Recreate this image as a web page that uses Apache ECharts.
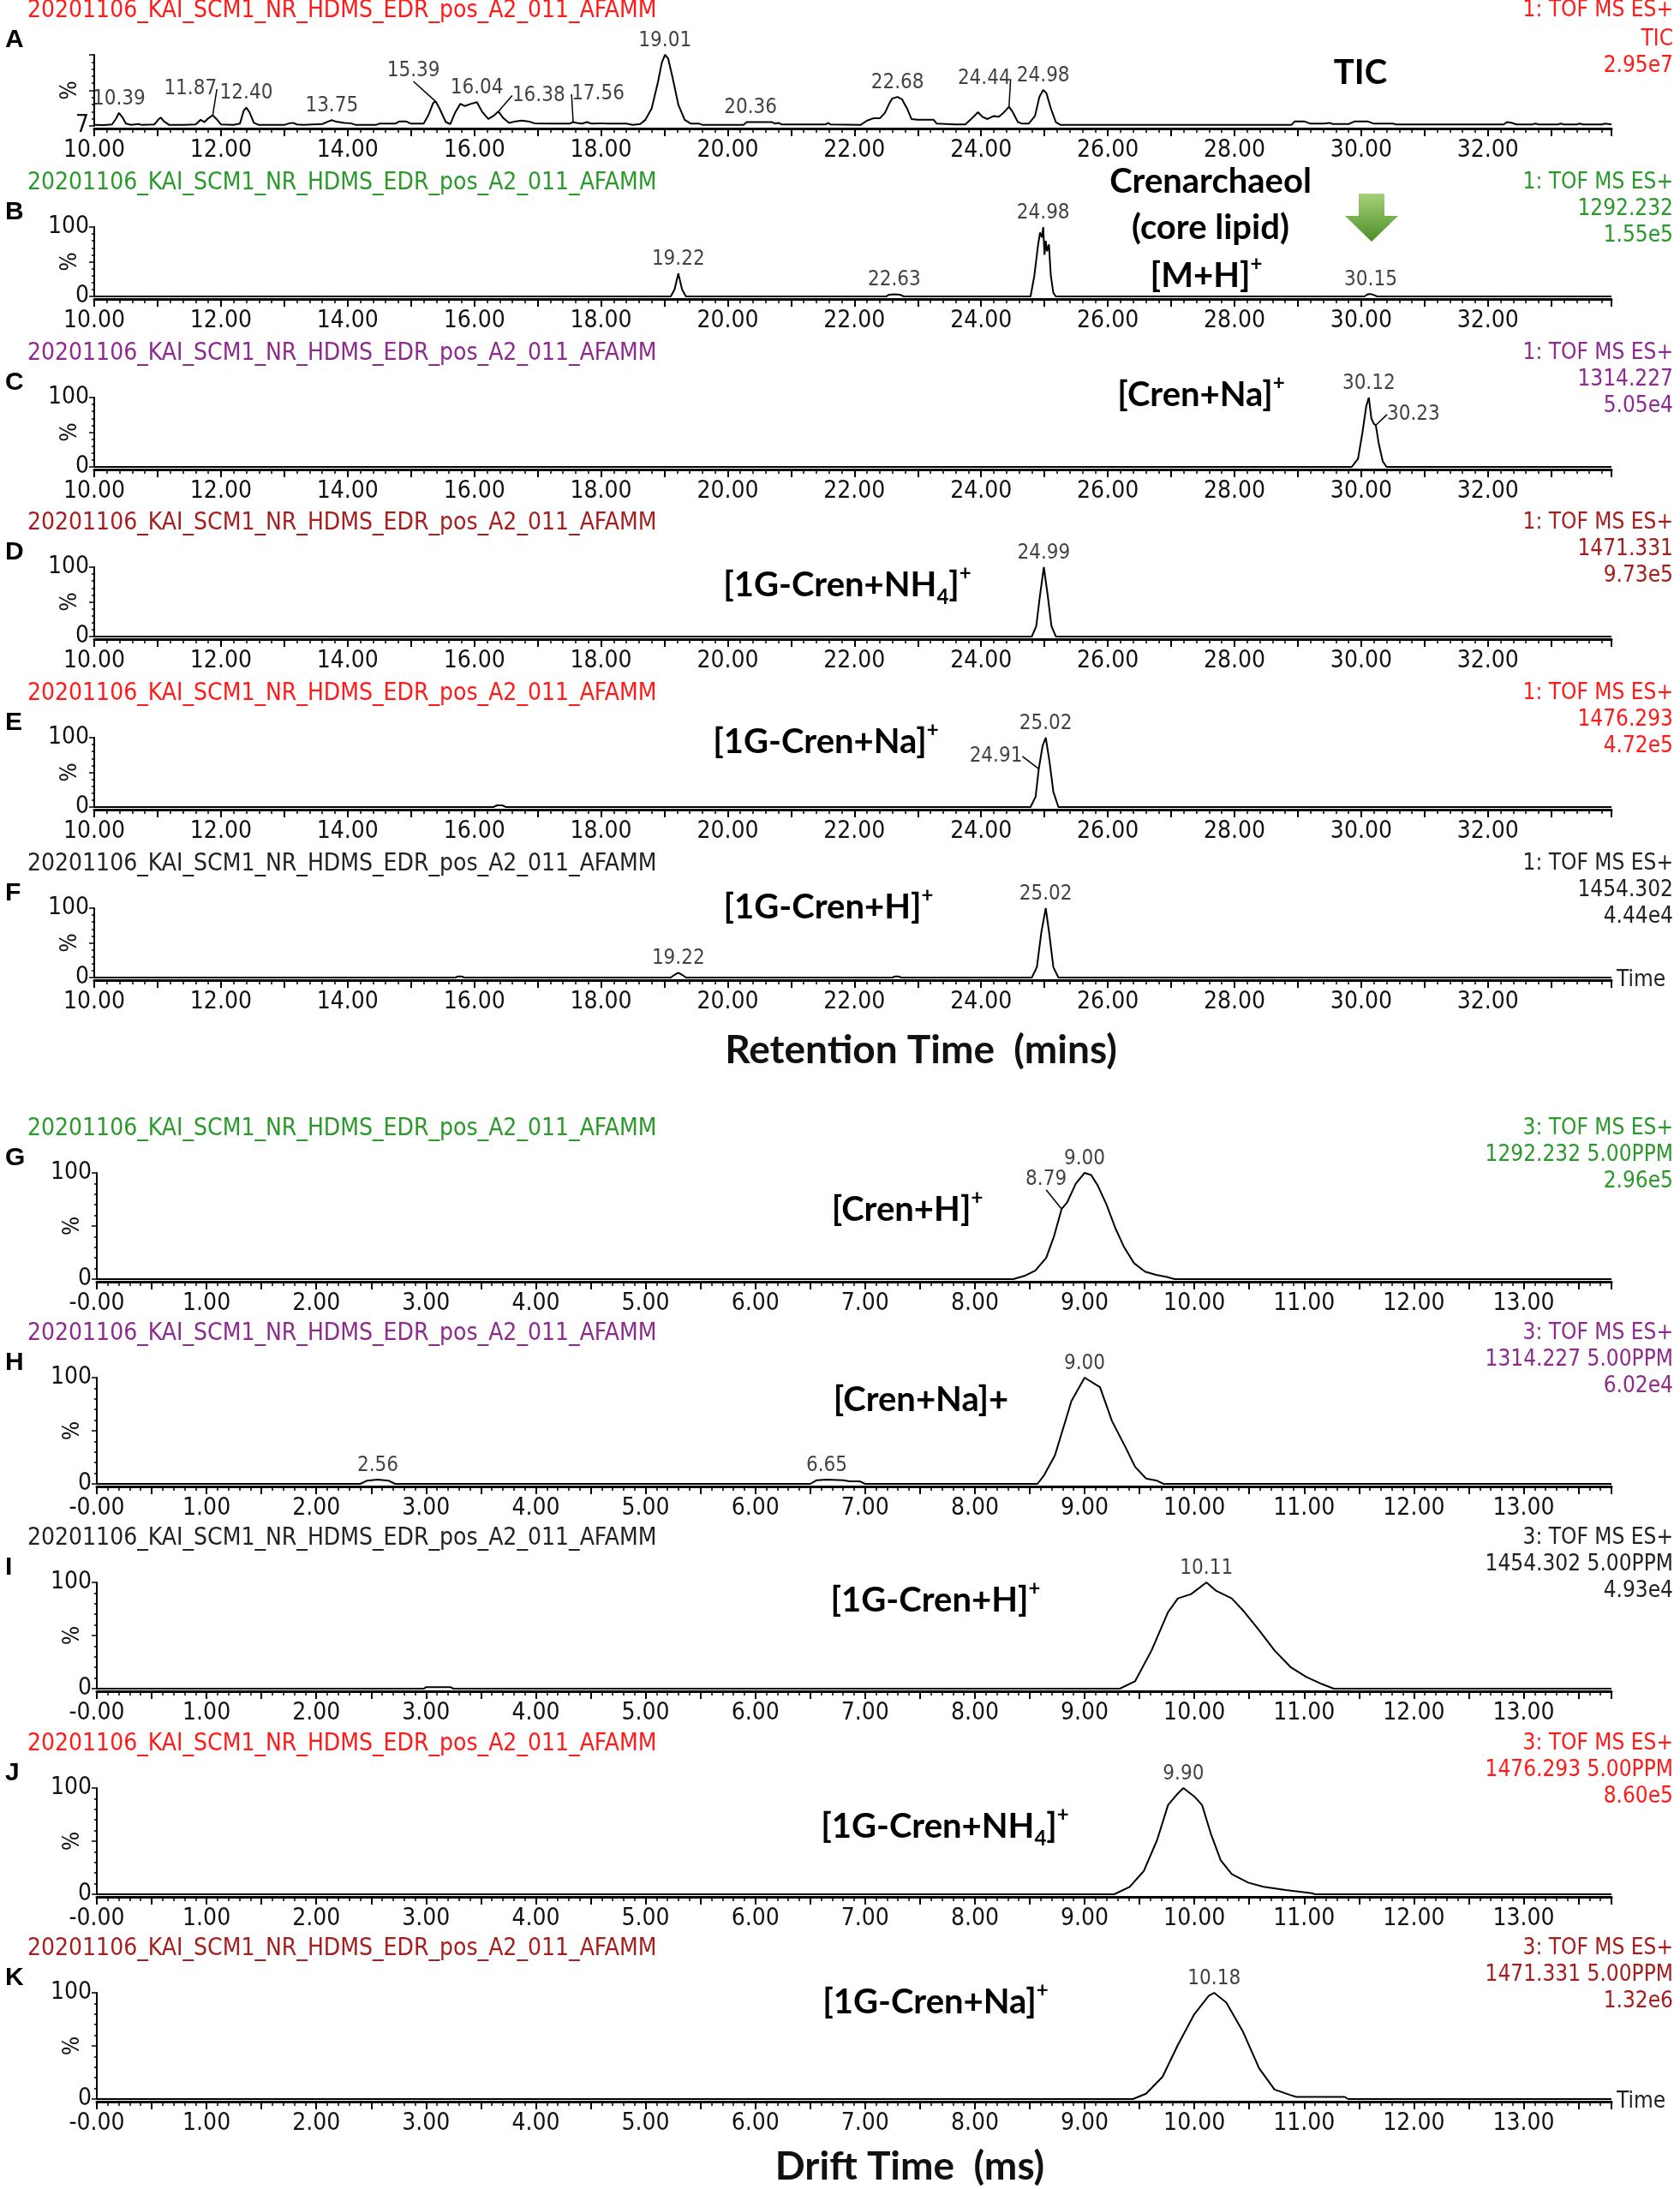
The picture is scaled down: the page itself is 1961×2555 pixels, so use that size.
<!DOCTYPE html>
<html><head><meta charset="utf-8">
<script src="https://cdn.jsdelivr.net/npm/echarts@6/dist/echarts.min.js"></script>
<style>html,body{margin:0;padding:0;background:#fff}#c{width:1961px;height:2555px}</style>
</head><body><div id="c"></div>
<script>
// ---------------- DATA ----------------
const fileName = '20201106_KAI_SCM1_NR_HDMS_EDR_pos_A2_011_AFAMM';

// Retention-time chromatograms [min, %]
const ticA = [[10.00,8.5],[10.15,8.2],[10.28,9],[10.34,16],[10.39,24],[10.44,19],[10.50,10],[10.58,8.3],[10.70,9.5],[10.75,8.3],[10.95,9],[11.02,16],[11.05,18],[11.10,13],[11.18,8.5],[11.40,8.3],[11.60,9],[11.68,15],[11.74,12],[11.80,17],[11.87,21],[11.93,16],[12.00,9],[12.20,8.3],[12.30,10],[12.36,27],[12.40,31],[12.45,25],[12.52,11],[12.60,8.3],[13.00,8.3],[13.08,10.5],[13.14,11],[13.20,9],[13.30,8.3],[13.60,9.5],[13.70,13],[13.75,14.5],[13.82,12.5],[13.95,11],[14.05,10.5],[14.12,8.5],[14.45,8.5],[14.50,10],[14.75,10],[14.82,13],[14.92,13],[15.00,10],[15.20,10],[15.28,22],[15.35,37],[15.39,39],[15.45,30],[15.55,12],[15.62,9.5],[15.70,25],[15.78,36],[15.85,33],[15.95,36],[16.04,38],[16.12,26],[16.22,16],[16.30,20],[16.38,26],[16.46,17],[16.55,11],[16.65,13],[16.75,14],[16.85,13],[16.95,10.5],[17.20,10],[17.50,10],[17.56,12],[17.62,11],[17.70,10],[17.78,12],[17.85,10],[18.00,10.5],[18.10,10],[18.40,10],[18.50,8.5],[18.62,9.5],[18.70,15],[18.80,30],[18.90,65],[18.96,90],[19.01,100],[19.06,95],[19.13,70],[19.22,35],[19.32,15],[19.42,10],[19.55,10],[19.60,8.5],[20.25,8.5],[20.30,12],[20.36,12],[20.70,12],[20.75,10],[20.80,11],[20.85,9],[21.55,9],[21.58,11],[21.62,9],[22.10,8.5],[22.20,14],[22.30,17],[22.40,17],[22.48,24],[22.56,38],[22.60,43],[22.68,45],[22.75,42],[22.83,30],[22.90,16],[23.00,15],[23.25,15],[23.30,10],[23.60,9],[23.75,9],[23.83,15],[23.95,25],[24.02,19],[24.10,16],[24.20,20],[24.28,19],[24.35,24],[24.44,32],[24.50,25],[24.58,12],[24.65,10],[24.75,10],[24.85,20],[24.92,45],[24.98,54],[25.03,50],[25.10,30],[25.18,12],[25.25,8.5],[28.90,8.5],[28.95,13],[29.10,13],[29.20,10],[29.40,10],[29.50,11],[29.55,9.5],[29.80,9.5],[29.90,13],[30.10,13],[30.20,10],[30.50,10],[30.55,9],[32.25,9],[32.30,12],[32.38,11],[32.45,9],[32.70,9],[32.75,10],[32.80,9],[33.10,9],[33.15,10],[33.20,9],[33.40,9],[33.45,10],[33.50,9],[33.80,9],[33.85,10],[33.95,9]];
const crenH_B = [[10,0],[19.10,0],[19.16,10],[19.22,33],[19.28,10],[19.34,0],[22.50,0],[22.55,2.5],[22.63,3],[22.72,2.5],[22.78,0],[24.78,0],[24.84,30],[24.90,75],[24.93,92],[24.96,85],[24.98,100],[25.00,60],[25.02,80],[25.04,65],[25.07,75],[25.10,30],[25.14,5],[25.18,0],[30.05,0],[30.10,3],[30.15,3.5],[30.20,2],[30.25,0],[33.95,0]];
const crenNa_C = [[10,0],[29.85,0],[29.95,12],[30.02,50],[30.08,88],[30.12,100],[30.16,70],[30.20,62],[30.23,60],[30.28,32],[30.34,8],[30.40,0],[33.95,0]];
const gcNH4_D = [[10,0],[24.80,0],[24.87,15],[24.93,60],[24.99,100],[25.05,60],[25.11,15],[25.18,0],[33.95,0]];
const gcNa_E = [[10,0],[16.30,0],[16.36,2.5],[16.44,2.5],[16.50,0],[24.78,0],[24.86,15],[24.91,55],[24.97,88],[25.02,100],[25.08,65],[25.14,22],[25.22,0],[33.95,0]];
const gcH_F = [[10,0],[15.70,0],[15.74,1.5],[15.80,1.5],[15.84,0],[19.10,0],[19.16,4],[19.22,7],[19.28,4],[19.34,0],[22.60,0],[22.64,1.5],[22.70,1.5],[22.74,0],[24.80,0],[24.88,15],[24.95,65],[25.02,100],[25.08,60],[25.14,15],[25.22,0],[33.95,0]];

// Drift-time mobilograms [ms, %]
const crenH_G = [[0,0],[8.35,0],[8.45,3],[8.55,8],[8.65,20],[8.72,40],[8.79,66],[8.84,72],[8.92,90],[9.00,100],[9.06,98],[9.12,88],[9.20,70],[9.28,48],[9.36,30],[9.45,15],[9.55,7],[9.65,4],[9.75,2],[9.82,0],[13.8,0]];
const crenNa_H = [[0,0],[2.40,0],[2.46,3],[2.56,4],[2.66,3],[2.72,0],[6.50,0],[6.56,3.5],[6.65,4],[6.80,3.5],[6.86,2.5],[6.95,2.5],[7.00,0],[8.57,0],[8.63,8],[8.73,27],[8.88,78],[9.00,100],[9.14,91],[9.25,59],[9.37,35],[9.46,16],[9.56,5],[9.66,3],[9.72,0],[13.8,0]];
const gcH_I = [[0,0],[2.98,0],[3.00,1.5],[3.22,1.5],[3.25,0],[9.32,0],[9.46,7],[9.61,36],[9.76,72],[9.85,85],[9.97,89],[10.11,100],[10.20,92],[10.34,85],[10.44,74],[10.59,55],[10.73,36],[10.88,20],[11.02,11],[11.17,4],[11.27,0],[13.8,0]];
const gcNH4_J = [[0,0],[9.27,0],[9.41,7],[9.54,22],[9.66,51],[9.76,84],[9.85,95],[9.90,100],[10.00,92],[10.07,84],[10.15,57],[10.24,32],[10.34,19],[10.49,11],[10.63,7],[10.83,4],[11.07,1],[11.10,0],[13.8,0]];
const gcNa_K = [[0,0],[9.44,0],[9.56,5],[9.71,21],[9.85,51],[10.00,80],[10.13,97],[10.18,100],[10.29,91],[10.44,64],[10.59,29],[10.73,9],[10.88,3.5],[10.93,2],[11.37,2],[11.40,0],[13.8,0]];

// Labelled peak apex times
const peaksA = [10.39,11.87,12.40,13.75,15.39,16.04,16.38,17.56,19.01,20.36,22.68,24.44,24.98];
const peaksB = [19.22,22.63,24.98,30.15];
const peaksC = [30.12,30.23];
const peaksD = [24.99];
const peaksE = [24.91,25.02];
const peaksF = [19.22,25.02];
const peaksG = [8.79,9.00];
const peaksH = [2.56,6.65,9.00];
const peaksI = [10.11];
const peaksJ = [9.90];
const peaksK = [10.18];

// Scan info (right header lines)
const infoA = ['1: TOF MS ES+','TIC','2.95e7'];
const infoB = ['1: TOF MS ES+','1292.232','1.55e5'];
const infoC = ['1: TOF MS ES+','1314.227','5.05e4'];
const infoD = ['1: TOF MS ES+','1471.331','9.73e5'];
const infoE = ['1: TOF MS ES+','1476.293','4.72e5'];
const infoF = ['1: TOF MS ES+','1454.302','4.44e4'];
const infoG = ['3: TOF MS ES+','1292.232 5.00PPM','2.96e5'];
const infoH = ['3: TOF MS ES+','1314.227 5.00PPM','6.02e4'];
const infoI = ['3: TOF MS ES+','1454.302 5.00PPM','4.93e4'];
const infoJ = ['3: TOF MS ES+','1476.293 5.00PPM','8.60e5'];
const infoK = ['3: TOF MS ES+','1471.331 5.00PPM','1.32e6'];

// ---------------- STYLE / LAYOUT ----------------
const RED='#ff1a1a', GREEN='#2b982b', PURPLE='#8d2b8d', DKRED='#a41e1e', BLACK='#222222';
const NARROW = "'Liberation Sans Narrow','Arial Narrow','DejaVu Sans Condensed',sans-serif";
const BOLDF = "Lato, 'Open Sans', sans-serif";

const panels = [
  {key:'A', kind:'rt', data:ticA,     peaks:peaksA, info:infoA, color:RED,    ymin:7},
  {key:'B', kind:'rt', data:crenH_B,  peaks:peaksB, info:infoB, color:GREEN,  ymin:0},
  {key:'C', kind:'rt', data:crenNa_C, peaks:peaksC, info:infoC, color:PURPLE, ymin:0},
  {key:'D', kind:'rt', data:gcNH4_D,  peaks:peaksD, info:infoD, color:DKRED,  ymin:0},
  {key:'E', kind:'rt', data:gcNa_E,   peaks:peaksE, info:infoE, color:RED,    ymin:0},
  {key:'F', kind:'rt', data:gcH_F,    peaks:peaksF, info:infoF, color:BLACK,  ymin:0, timeName:true},
  {key:'G', kind:'dt', data:crenH_G,  peaks:peaksG, info:infoG, color:GREEN,  ymin:0},
  {key:'H', kind:'dt', data:crenNa_H, peaks:peaksH, info:infoH, color:PURPLE, ymin:0},
  {key:'I', kind:'dt', data:gcH_I,    peaks:peaksI, info:infoI, color:BLACK,  ymin:0},
  {key:'J', kind:'dt', data:gcNH4_J,  peaks:peaksJ, info:infoJ, color:RED,    ymin:0},
  {key:'K', kind:'dt', data:gcNa_K,   peaks:peaksK, info:infoK, color:DKRED,  ymin:0, timeName:true}
];
const tops    = [64, 265, 464, 662, 861, 1060, 1369, 1608, 1847, 2087, 2326];
const heights = [83, 81, 81, 81, 81, 81, 124, 124, 124, 124, 124];

const labelTweaks = {
  'A:11.87': {dx:-26, dy:-14, line:true},
  'A:15.39': {dx:-26, dy:-19, line:true},
  'A:16.38': {dx:47, dy:-2, line:true},
  'A:17.56': {dx:29, dy:-16, line:true},
  'A:24.44': {dx:-29, dy:-16, line:true},
  'C:30.23': {dx:44, dy:4, line:true},
  'E:24.91': {dx:-50, dy:2, line:true},
  'G:8.79':  {dx:-18, dy:-18, line:true}
};

const grids=[], xAxes=[], yAxes=[], series=[], graphics=[];

panels.forEach((p, i) => {
  const isRT = p.kind === 'rt';
  const gLeft = isRT ? 110 : 113;
  grids.push({left: gLeft, right: 80, top: tops[i], height: heights[i]});
  xAxes.push({
    type:'value', gridIndex:i,
    min: isRT ? 10 : 0, max: isRT ? 33.95 : 13.8,
    interval: isRT ? 1 : 0.5,
    offset: 3,
    name: p.timeName ? 'Time' : '',
    nameLocation:'end', nameGap: 6,
    nameTextStyle:{fontFamily:NARROW, fontSize:26, color:'#222', align:'left', verticalAlign:'middle'},
    axisLine:{show:true, onZero:false, lineStyle:{color:'#000', width:3}},
    axisTick:{show:true, length:9, lineStyle:{color:'#000', width:2}},
    minorTick:{show:true, splitNumber:5, length:5, lineStyle:{color:'#000', width:1.5}},
    splitLine:{show:false},
    axisLabel:{
      fontFamily:NARROW, fontSize:28, color:'#111', margin:12,
      showMinLabel:true, showMaxLabel:false,
      formatter: isRT
        ? (v => (Math.round(v) % 2 === 0 ? v.toFixed(2) : ''))
        : (v => (Number.isInteger(v) ? (v === 0 ? '-0.00' : v.toFixed(2)) : ''))
    }
  });
  const ymin = p.ymin;
  yAxes.push({
    type:'value', gridIndex:i, min:ymin, max:100, interval:(100-ymin)/2,
    axisLine:{show:true, lineStyle:{color:'#000', width:2}},
    axisTick:{show:true, length:6, lineStyle:{color:'#000', width:1.5}},
    minorTick:{show:true, splitNumber:5, length:3, lineStyle:{color:'#000', width:1.5}},
    splitLine:{show:false},
    axisLabel:{fontFamily:NARROW, fontSize:28, color:'#111', margin:6,
      formatter: v => (ymin > 0 ? (v === ymin ? String(ymin) : '') : (v === 100 ? '100' : (v === 0 ? '0' : '')))}
  });
  series.push({
    type:'line', xAxisIndex:i, yAxisIndex:i, data:p.data,
    showSymbol:false, silent:true, animation:false,
    lineStyle:{color:'#000', width:2}, z:3
  });
  // peak labels taken from the series' own points
  const lblData = p.peaks.map(t => {
    const pt = p.data.find(d => Math.abs(d[0]-t) < 1e-9);
    const tw = labelTweaks[p.key + ':' + t.toFixed(2)] || {};
    return {
      value:[pt[0], pt[1]],
      label:{show:true, position:'top', distance:4, formatter: t.toFixed(2)},
      labelLine:{show: !!tw.line, length2:0, lineStyle:{color:'#000', width:1.5}}
    };
  });
  const keyP = p.key;
  series.push({
    type:'scatter', xAxisIndex:i, yAxisIndex:i, data:lblData,
    symbol:'circle', symbolSize:1, itemStyle:{color:'rgba(0,0,0,0)'},
    silent:true, animation:false, z:4,
    label:{show:true, fontFamily:NARROW, fontSize:24, color:'#111'},
    labelLayout: params => {
      const t = p.peaks[params.dataIndex];
      const tw = labelTweaks[keyP + ':' + t.toFixed(2)] || {};
      return {dx: tw.dx || 0, dy: tw.dy || 0};
    }
  });

  // header texts
  const top = tops[i];
  graphics.push({type:'text', left:32, top:top-49-16, style:{text:fileName, fill:p.color, font:`28px ${NARROW}`}});
  p.info.forEach((s, k) => {
    graphics.push({type:'text', right:8, top: top - 51 + k*31 - 14 + (i===0 && k>0 ? 3 : 0),
      style:{text:s, fill:p.color, font:`26px ${NARROW}`, textAlign:'right'}});
  });
  graphics.push({type:'text', left:6, top:top-32, style:{text:p.key, fill:'#000', font:`bold 30px 'Liberation Sans', sans-serif`}});
  // rotated % axis title
  graphics.push({type:'text', x:gLeft-28, y:top+heights[i]/2, rotation:Math.PI/2,
    style:{text:'%', fill:'#111', font:`26px ${NARROW}`, textAlign:'center', textVerticalAlign:'middle'}});
});

// annotation texts (rich)
const richStyle = {
  m:{fontFamily:BOLDF, fontWeight:'bold', fontSize:40, color:'#111', lineHeight:52},
  s:{fontFamily:BOLDF, fontWeight:'bold', fontSize:24, color:'#111', verticalAlign:'top', lineHeight:52},
  b:{fontFamily:BOLDF, fontWeight:'bold', fontSize:24, color:'#111', verticalAlign:'bottom', lineHeight:52}
};
function ann(x, y, text) {
  graphics.push({type:'text', x:x, y:y, style:{text:text, rich:richStyle, textAlign:'center', textVerticalAlign:'middle'}});
}
ann(1588, 85, '{m|TIC}');
ann(1413, 212, '{m|Crenarchaeol}');
ann(1413, 266, '{m|(core lipid)}');
ann(1408, 322, '{m|[M+H]}{s|+}');
ann(1402, 461, '{m|[Cren+Na]}{s|+}');
ann(989, 683, '{m|[1G-Cren+NH}{b|4}{m|]}{s|+}');
ann(964, 866, '{m|[1G-Cren+Na]}{s|+}');
ann(967, 1059, '{m|[1G-Cren+H]}{s|+}');
ann(1059, 1412, '{m|[Cren+H]}{s|+}');
ann(1075, 1634, '{m|[Cren+Na]+}');
ann(1092, 1868, '{m|[1G-Cren+H]}{s|+}');
ann(1103, 2132, '{m|[1G-Cren+NH}{b|4}{m|]}{s|+}');
ann(1092, 2337, '{m|[1G-Cren+Na]}{s|+}');

// axis titles
graphics.push({type:'text', x:1075, y:1226, style:{text:'Retention Time  (mins)', fill:'#111', font:`bold 46px ${BOLDF}`, textAlign:'center', textVerticalAlign:'middle'}});
graphics.push({type:'text', x:1062, y:2529, style:{text:'Drift Time  (ms)', fill:'#111', font:`bold 46px ${BOLDF}`, textAlign:'center', textVerticalAlign:'middle'}});

// green arrow in panel B
graphics.push({type:'polygon', x:1601, y:226,
  shape:{points:[[-15,0],[15,0],[15,26],[31,26],[0,56],[-31,26],[-15,26]]},
  style:{fill:{type:'linear', x:0, y:0, x2:0, y2:1, colorStops:[{offset:0, color:'#a6d07a'},{offset:1, color:'#4a8f27'}]}}
});

const chart = echarts.init(document.getElementById('c'), null, {renderer:'canvas'});
chart.setOption({
  animation:false, backgroundColor:'#fff',
  grid:grids, xAxis:xAxes, yAxis:yAxes, series:series, graphic:graphics
});
</script></body></html>
